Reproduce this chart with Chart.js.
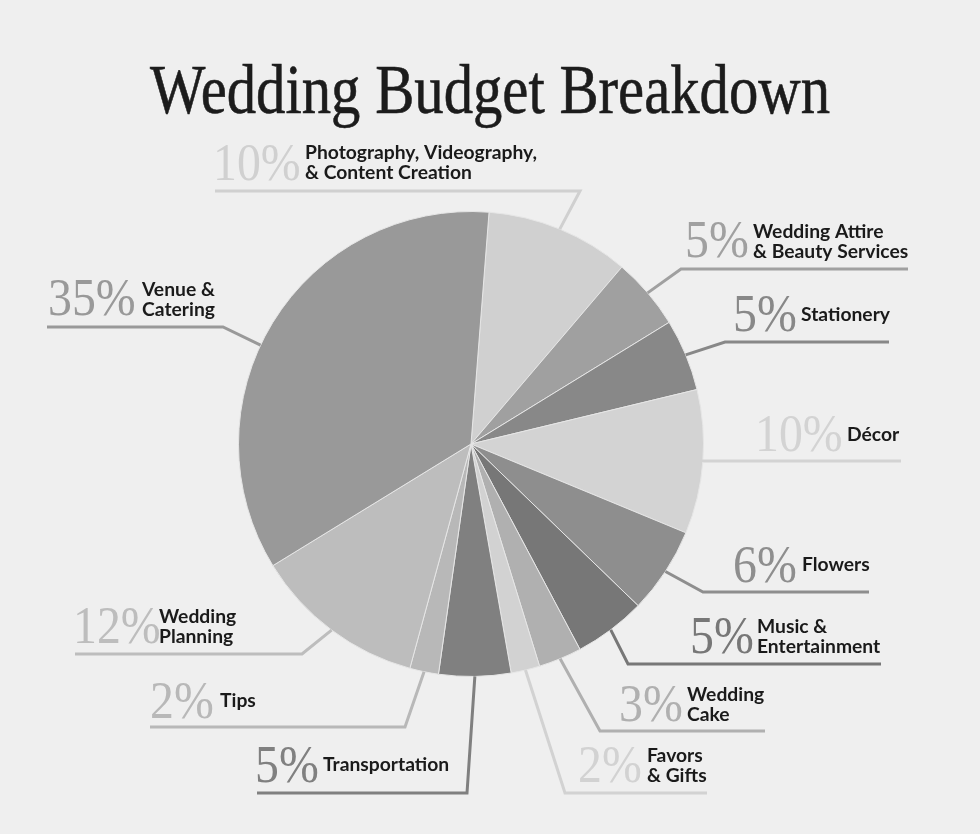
<!DOCTYPE html>
<html>
<head>
<meta charset="utf-8">
<script src="https://cdn.jsdelivr.net/npm/chart.js@4/dist/chart.umd.min.js"></script>
<style>
  html, body { margin: 0; padding: 0; background: #efefef; }
  #wrap { width: 980px; height: 834px; }
</style>
</head>
<body>
<div id="wrap"><canvas id="c" width="980" height="834"></canvas></div>
<script>
// ---- data ----
const titleText = 'Wedding Budget Breakdown';
const categories = [
  'Photography, Videography, & Content Creation',
  'Wedding Attire & Beauty Services',
  'Stationery',
  'Décor',
  'Flowers',
  'Music & Entertainment',
  'Wedding Cake',
  'Favors & Gifts',
  'Transportation',
  'Tips',
  'Wedding Planning',
  'Venue & Catering'
];
const labelLines = [
  ['Photography, Videography,', '& Content Creation'],
  ['Wedding Attire', '& Beauty Services'],
  ['Stationery'],
  ['Décor'],
  ['Flowers'],
  ['Music &', 'Entertainment'],
  ['Wedding', 'Cake'],
  ['Favors', '& Gifts'],
  ['Transportation'],
  ['Tips'],
  ['Wedding', 'Planning'],
  ['Venue &', 'Catering']
];
const values = [10, 5, 5, 10, 6, 5, 3, 2, 5, 2, 12, 35];
const colors = ['#d0d0d0', '#a0a0a0', '#888888', '#d3d3d3', '#8e8e8e', '#777777',
                '#b0b0b0', '#d2d2d2', '#808080', '#b8b8b8', '#bdbdbd', '#999999'];

// ---- annotation layout (positions only) ----
const layout = [
  { pct: [213, 180], text: [305, 159], lineY: 191, elbowX: 580, farX: 215 },
  { pct: [685, 257], text: [753, 238], lineY: 269, elbowX: 681, farX: 908 },
  { pct: [733, 331], text: [801, 321], lineY: 342, elbowX: 725, farX: 889 },
  { pct: [755, 451], text: [847, 441], lineY: 461, elbowX: 703, farX: 901 },
  { pct: [733, 582], text: [802, 571], lineY: 592, elbowX: 703, farX: 869 },
  { pct: [690, 653], text: [757, 633], lineY: 664, elbowX: 628, farX: 881 },
  { pct: [619, 721], text: [687, 701], lineY: 731, elbowX: 600, farX: 765 },
  { pct: [578, 782], text: [647, 762], lineY: 793, elbowX: 565, farX: 707 },
  { pct: [255, 782], text: [323, 771], lineY: 793, elbowX: 467, farX: 257 },
  { pct: [150, 718], text: [220, 707], lineY: 727, elbowX: 405, farX: 150 },
  { pct: [73, 643],  text: [159, 623], lineY: 654, elbowX: 302, farX: 75 },
  { pct: [48, 315],  text: [142, 296], lineY: 327, elbowX: 223, farX: 47, frac: 0.45 }
];

const bgPlugin = {
  id: 'bg',
  beforeDraw(chart) {
    const ctx = chart.ctx;
    ctx.save();
    ctx.fillStyle = '#efefef';
    ctx.fillRect(0, 0, chart.width, chart.height);
    ctx.restore();
  }
};

const annoPlugin = {
  id: 'anno',
  afterDatasetsDraw(chart) {
    const ctx = chart.ctx;
    const meta = chart.getDatasetMeta(0);
    ctx.save();
    // title
    ctx.fillStyle = '#1c1c1c';
    ctx.font = '69px "Liberation Serif", "Times New Roman", serif';
    ctx.textBaseline = 'alphabetic';
    const tw = ctx.measureText(titleText).width;
    const targetW = 680;
    const sx = targetW / tw;
    ctx.save();
    ctx.translate(490 - targetW / 2, 113);
    ctx.scale(sx, 1);
    ctx.textAlign = 'left';
    ctx.fillText(titleText, 0, 0);
    ctx.lineWidth = 0.6;
    ctx.strokeStyle = '#1c1c1c';
    ctx.strokeText(titleText, 0, 0);
    ctx.restore();

    meta.data.forEach((arc, i) => {
      const L = layout[i];
      const p = arc.getProps(['x', 'y', 'startAngle', 'endAngle', 'outerRadius'], true);
      const f = L.frac !== undefined ? L.frac : 0.5;
      const a = p.startAngle + (p.endAngle - p.startAngle) * f;
      const ax = p.x + Math.cos(a) * p.outerRadius;
      const ay = p.y + Math.sin(a) * p.outerRadius;
      ctx.strokeStyle = colors[i];
      ctx.lineWidth = 3;
      ctx.lineJoin = 'miter';
      ctx.beginPath();
      ctx.moveTo(ax, ay);
      ctx.lineTo(L.elbowX, L.lineY);
      ctx.lineTo(L.farX, L.lineY);
      ctx.stroke();

      // percent
      ctx.fillStyle = colors[i];
      ctx.font = '52px "Liberation Serif", "Times New Roman", serif';
      ctx.textAlign = 'left';
      ctx.save();
      ctx.translate(L.pct[0], L.pct[1]);
      ctx.scale(0.92, 1);
      ctx.fillText(values[i] + '%', 0, 0);
      ctx.restore();

      // name
      ctx.fillStyle = '#1a1a1a';
      ctx.font = 'bold 19.3px Lato, "Open Sans", sans-serif';
      labelLines[i].forEach((ln, k) => {
        ctx.fillText(ln, L.text[0], L.text[1] + k * 19.5);
      });
    });
    ctx.restore();
  }
};

new Chart(document.getElementById('c'), {
  type: 'pie',
  data: {
    labels: categories,
    datasets: [{
      data: values,
      backgroundColor: colors,
      borderColor: '#e6e6e6',
      borderWidth: 1
    }]
  },
  options: {
    responsive: false,
    animation: false,
    rotation: 4.45,
    layout: { padding: { left: 238, right: 276, top: 211, bottom: 157 } },
    plugins: {
      legend: { display: false },
      tooltip: { enabled: false },
      title: { display: false }
    }
  },
  plugins: [bgPlugin, annoPlugin]
});
</script>
</body>
</html>
